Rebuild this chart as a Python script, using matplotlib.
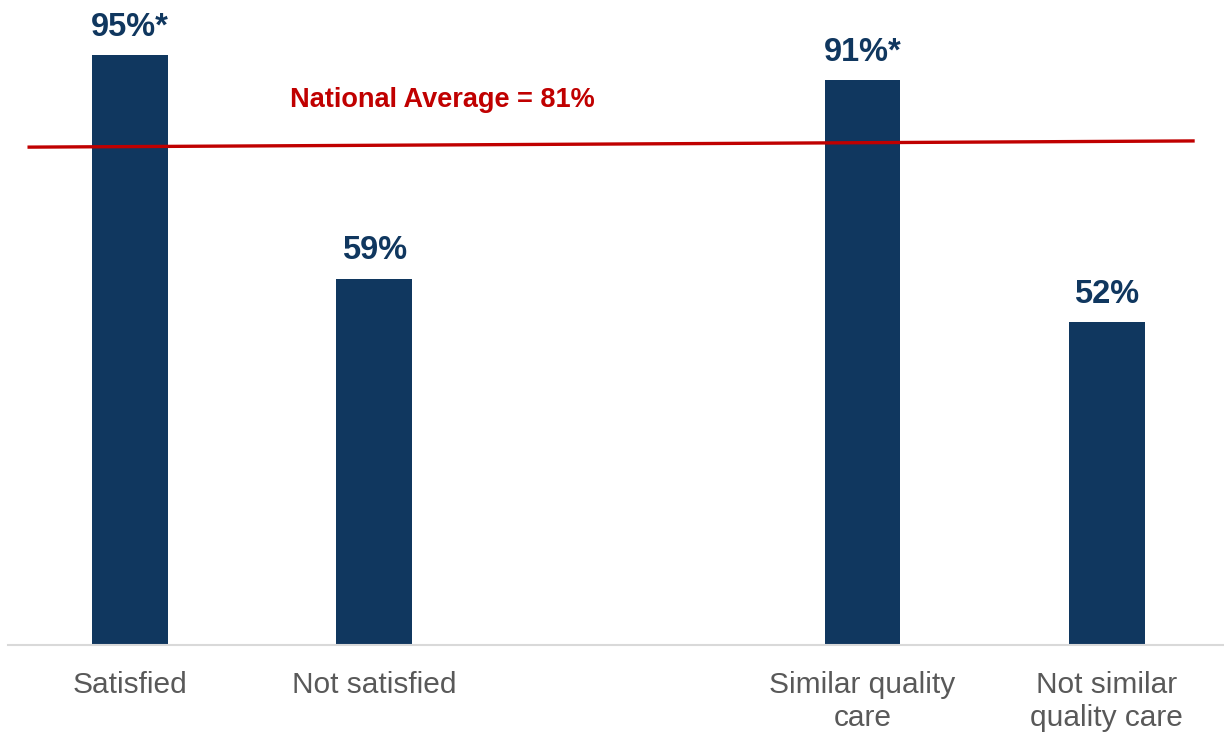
import matplotlib
matplotlib.use("Agg")
import numpy as np
from matplotlib import pyplot as plt

plt.rcParams['font.family'] = ['Liberation Sans', 'DejaVu Sans']

categories = ["Satisfied", "Not satisfied", "Similar quality\ncare", "Not similar\nquality care"]
slots = [0, 1, 3, 4]
values = [95, 59, 91, 52]
labels = ["95%*", "59%", "91%*", "52%"]
national_avg = 81
avg_line_x = [-0.42, 4.36]
avg_line_y = [80.2, 81.2]

navy = "#10375F"
red = "#C00000"

fig = plt.figure(figsize=(12.24, 7.36), dpi=100)
ax = fig.add_axes([0.0065, 0.1236, 0.9935, 0.8764])

ax.bar(slots, values, width=0.31, color=navy)
for x, v, lab in zip(slots, values, labels):
    ax.annotate(lab, (x, v), xytext=(0, 9), textcoords="offset points",
                ha="center", va="bottom", fontsize=23.5, fontweight="bold", color=navy)

ax.plot(avg_line_x, avg_line_y, color=red, lw=2.4, solid_capstyle="butt")
ax.text(1.28, 87.8, "National Average = %d%%" % national_avg, ha="center", va="center",
        fontsize=19.5, fontweight="bold", color=red)

ax.set_xlim(-0.5, 4.48)
ax.set_ylim(0, 103.9)
ax.set_xticks(slots)
ax.set_xticklabels(categories, fontsize=21.5, color="#595959", linespacing=1.2)
ax.tick_params(axis="x", length=0, pad=19)
ax.set_yticks([])
for s in ["top", "right", "left"]:
    ax.spines[s].set_visible(False)
ax.spines["bottom"].set_color("#D9D9D9")
ax.spines["bottom"].set_linewidth(1.5)

fig.savefig("out.png", dpi=100)
